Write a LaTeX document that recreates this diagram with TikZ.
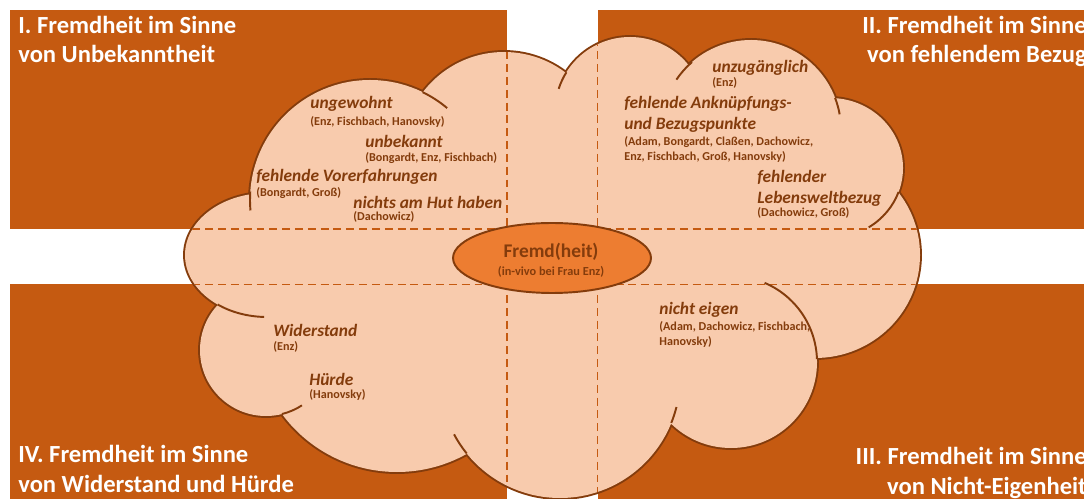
\documentclass[tikz,border=0pt]{standalone}
\usepackage{fontspec}
\setmainfont{Carlito}
\usetikzlibrary{shapes.geometric}
\definecolor{rustbox}{HTML}{C55A11}
\definecolor{cloudfill}{HTML}{F8CBAD}
\definecolor{cloudline}{HTML}{843C0C}
\definecolor{coreoval}{HTML}{ED7D31}
% lobes of the cloud, in pixel units
\newcommand{\cloudlobes}{(370,200) circle[radius=120] (504,154) circle[radius=102]
  (630,112) circle[radius=75] (751,130) circle[radius=90]
  (830,168) ellipse[x radius=73,y radius=70] (815,255) ellipse[x radius=105,y radius=103]
  (731,362) circle[radius=86] (560,378) circle[radius=120]
  (397,329) circle[radius=143] (266,350) circle[radius=66]
  (267,255) ellipse[x radius=82,y radius=62]}
\newcommand{\cloudcore}{(560,260) ellipse[x radius=290,y radius=150]}

\begin{document}
\begin{tikzpicture}[x=0.02cm,y=-0.02cm,
    quadrant/.style={fill=rustbox},
    heading/.style={text=white,inner sep=0pt,font=\fontsize{14}{16.7}\selectfont\bfseries},
    term/.style={text=cloudline,inner sep=0pt,anchor=west,align=left,font=\fontsize{9.9}{12}\selectfont\bfseries\itshape},
    source/.style={text=cloudline,inner sep=0pt,anchor=west,align=left,font=\fontsize{6.9}{8.5}\selectfont\bfseries},
    seam/.style={draw=rustbox,line width=1.1pt,dash pattern=on 4.5pt off 2.8pt},
    tail/.style={draw=cloudline,line width=1.1pt},
    core/.style={ellipse,draw=cloudline,fill=coreoval,line width=1.1pt,minimum width=3.96cm,minimum height=1.4cm,inner sep=0pt}]
    \useasboundingbox (0,0) rectangle (1084,499);

    % four quadrants
    \fill[quadrant] (10,10) rectangle (507,229);
    \fill[quadrant] (597.5,10) rectangle (1090,229);
    \fill[quadrant] (10,284.5) rectangle (507,505);
    \fill[quadrant] (597.5,284.5) rectangle (1090,505);

    % cloud: outline first, then the fill hides the inner strokes
    \draw[cloudline,line width=2.2pt] \cloudlobes;
    \fill[cloudfill] \cloudlobes \cloudcore;
    \begin{scope}
        \clip \cloudlobes \cloudcore;
        \draw[seam] (507,0) -- (507,499);
        \draw[seam] (597.5,0) -- (597.5,499);
        \draw[seam] (0,229) -- (1084,229);
        \draw[seam] (0,284.5) -- (1084,284.5);
    \end{scope}

    % inner arcs of the cloud
    \draw[tail] (370,200) ++(184:120) arc[start angle=184,end angle=175,radius=120];
    \draw[tail] (370,200) ++(-64:120) arc[start angle=-64,end angle=-50,radius=120];
    \draw[tail] (630,112) ++(212:75) arc[start angle=212,end angle=198,radius=75];
    \draw[tail] (751,130) ++(229:90) arc[start angle=229,end angle=214,radius=90];
    \draw[tail] (751,130) ++(-21:90) arc[start angle=-21,end angle=-10,radius=90];
    \draw[tail] (830,168) ++({73*cos(20)},{70*sin(20)}) arc[start angle=20,end angle=58,x radius=73,y radius=70];
    \draw[tail] (731,362) ++(-2:86) arc[start angle=-2,end angle=-67,radius=86];
    \draw[tail] (560,378) ++(22:120) arc[start angle=22,end angle=14,radius=120];
    \draw[tail] (560,378) ++(141:120) arc[start angle=141,end angle=152,radius=120];
    \draw[tail] (266,350) ++(76:66) arc[start angle=76,end angle=57,radius=66];
    \draw[tail] (267,255) ++({82*cos(127)},{62*sin(127)}) arc[start angle=127,end angle=92,x radius=82,y radius=62];

    % centre
    \node[core] (core) at (552,258) {};
    \node[text=cloudline,inner sep=0pt,font=\fontsize{11}{12}\selectfont\bfseries] (coretitle) at (551,252) {Fremd(heit)};
    \node[text=cloudline,inner sep=0pt,font=\fontsize{7}{8}\selectfont\bfseries] (corenote) at (551,272) {(in-vivo bei Frau Enz)};

    % headings (base = last line)
    \node[heading,anchor=base west,align=left] (quadone) at (18,63) {I. Fremdheit im Sinne\\von Unbekanntheit};
    \node[heading,anchor=base east,align=right] (quadtwo) at (1087,63) {II. Fremdheit im Sinne\\von fehlendem Bezug};
    \node[heading,anchor=base east,align=right] (quadthree) at (1087,494) {III. Fremdheit im Sinne\\von Nicht-Eigenheit};
    \node[heading,anchor=base west,align=left] (quadfour) at (18,492) {IV. Fremdheit im Sinne\\von Widerstand und Hürde};

    % quadrant I
    \node[term] (ungewohnt) at (310,104) {ungewohnt};
    \node[source] (ungewohntsrc) at (310,122) {(Enz, Fischbach, Hanovsky)};
    \node[term] (unbekannt) at (365,141) {unbekannt};
    \node[source] (unbekanntsrc) at (365,158) {(Bongardt, Enz, Fischbach)};
    \node[term] (vorerfahrung) at (256,177) {fehlende Vorerfahrungen};
    \node[source] (vorerfahrungsrc) at (256,193) {(Bongardt, Groß)};
    \node[term] (hut) at (353,202) {nichts am Hut haben};
    \node[source] (hutsrc) at (353,217) {(Dachowicz)};

    % quadrant II
    \node[term] (unzugang) at (712,68) {unzugänglich};
    \node[source] (unzugangsrc) at (712,83) {(Enz)};
    \node[term] (anknuepf) at (624,114) {fehlende Anknüpfungs-\\und Bezugspunkte};
    \node[source] (anknuepfsrc) at (624,149.5) {(Adam, Bongardt, Claßen, Dachowicz,\\Enz, Fischbach, Groß, Hanovsky)};
    \node[term] (lebenswelt) at (757,188) {fehlender\\Lebensweltbezug};
    \node[source] (lebensweltsrc) at (757,213) {(Dachowicz, Groß)};

    % quadrant III
    \node[term] (eigen) at (659,310) {nicht eigen};
    \node[source] (eigensrc) at (659,334.5) {(Adam, Dachowicz, Fischbach,\\Hanovsky)};

    % quadrant IV
    \node[term] (widerstand) at (273,330) {Widerstand};
    \node[source] (widerstandsrc) at (273,347) {(Enz)};
    \node[term] (huerde) at (309,379) {Hürde};
    \node[source] (huerdesrc) at (309,395) {(Hanovsky)};
\end{tikzpicture}
\end{document}
